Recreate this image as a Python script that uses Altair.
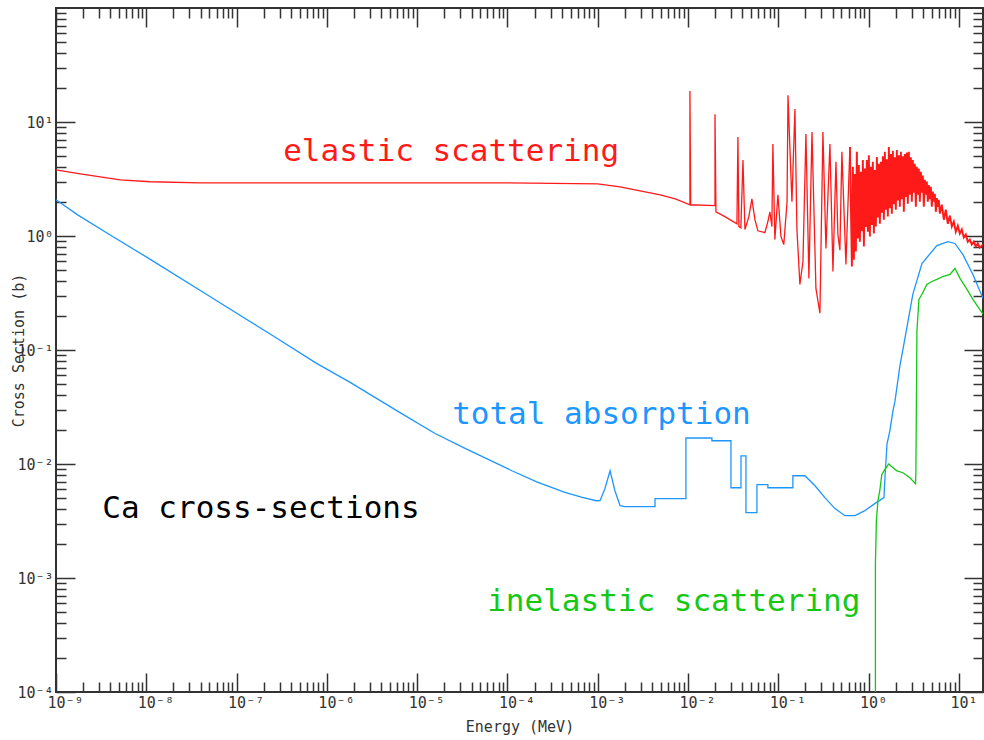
import altair as alt
import pandas as pd

# ---------------- data ----------------
# Energy in MeV, cross section in barns
elastic_low_E = [1.0e-9, 1.86e-9, 3.09e-9, 5.15e-9, 1.11e-8, 3.96e-8, 1.0e-6, 1.0e-4, 1.0e-3,
                 1.77e-3, 2.94e-3, 4.93e-3, 7.23e-3, 1.05e-2, 1.05e-2, 1.07e-2, 1.99e-2, 1.99e-2,
                 2.04e-2, 2.56e-2, 3.48e-2, 3.57e-2, 3.66e-2, 3.85e-2, 4.06e-2, 4.27e-2, 4.72e-2,
                 5.10e-2, 5.51e-2, 5.94e-2, 7.10e-2, 7.67e-2, 8.07e-2, 8.49e-2, 8.71e-2, 9.16e-2,
                 9.90e-2, 0.107, 0.115, 0.125, 0.128, 0.1345, 0.1416, 0.1528, 0.1607, 0.1734,
                 0.1875, 0.2023, 0.2183, 0.236, 0.261, 0.289, 0.312, 0.337, 0.373, 0.403, 0.435,
                 0.457, 0.481, 0.506, 0.561, 0.621]
elastic_low_S = [3.80, 3.51, 3.30, 3.11, 2.99, 2.93, 2.93, 2.93, 2.87,
                 2.70, 2.49, 2.30, 2.12, 1.88, 18.7, 1.88, 1.85, 11.7,
                 1.63, 1.48, 1.28, 7.4, 1.21, 1.18, 4.65, 1.14, 1.48,
                 2.12, 1.39, 1.11, 1.07, 1.34, 1.63, 1.21, 6.42, 0.93,
                 2.30, 0.99, 0.84, 2.00, 17.2, 5.81, 2.0, 13.0, 1.16, 0.376,
                 0.597, 7.85, 0.425, 8.18, 0.347, 0.210, 8.18, 0.776, 6.42, 0.489, 4.47,
                 1.03, 0.75, 5.47, 0.562, 6.04]
# dense resonance band (0.62 - 18 MeV)
elastic_band_E = [0.621,
                  0.653, 0.670, 0.687, 0.705, 0.723, 0.741, 0.761, 0.780, 0.801, 0.821,
                  0.843, 0.864, 0.887, 0.910, 0.933, 0.957, 0.982, 1.007, 1.033, 1.060,
                  1.087, 1.115, 1.144, 1.174, 1.204, 1.235, 1.267, 1.300, 1.333, 1.368,
                  1.403, 1.439, 1.476, 1.514, 1.553, 1.594, 1.635, 1.677, 1.720, 1.765,
                  1.810, 1.857, 1.905, 1.954, 2.004, 2.056, 2.109, 2.164, 2.219, 2.277,
                  2.335, 2.396, 2.457, 2.521, 2.586, 2.653, 2.721, 2.791, 2.863, 2.937,
                  3.013, 3.091, 3.171, 3.253, 3.336, 3.423, 3.511, 3.602, 3.695, 3.790,
                  3.888, 3.988, 4.091, 4.197, 4.305, 4.417, 4.530, 4.647, 4.767, 4.890,
                  5.017, 5.146, 5.279, 5.416, 5.555, 5.699, 5.845, 5.996, 6.151,
                  6.473, 6.811, 7.168, 7.542, 7.937, 8.352, 8.789, 9.248, 9.732, 10.24,
                  10.78, 11.34, 11.93, 12.56, 13.21, 13.90, 14.63, 15.40, 16.20, 17.05, 18.4]
elastic_band_S = [6.04,
                  0.54, 4.04, 0.62, 3.50, 0.73, 5.47, 0.95, 4.20, 0.89, 3.66,
                  1.10, 4.65, 0.81, 3.90, 1.20, 4.65, 1.09, 5.10, 0.99, 4.04,
                  1.25, 4.47, 1.05, 3.80, 1.21, 4.94, 1.45, 4.30, 1.28, 4.47,
                  1.60, 5.00, 1.39, 5.47, 1.70, 4.70, 1.48, 6.04, 1.75, 5.25,
                  1.57, 5.60, 1.90, 4.90, 1.70, 5.69, 2.05, 5.10, 1.81, 5.47,
                  2.10, 5.00, 1.63, 5.25, 2.20, 5.40, 1.92, 5.47, 2.30, 4.90,
                  2.00, 4.65, 2.40, 4.30, 1.81, 4.04, 2.30, 3.90, 2.00, 3.66,
                  2.40, 3.40, 1.81, 3.11, 2.30, 3.00, 2.00, 2.80, 2.10, 2.70,
                  1.81, 2.45, 2.00, 2.35, 1.63, 2.15, 1.80, 2.08, 1.57,
                  1.88, 1.39, 1.70, 1.28, 1.51, 1.21, 1.34, 1.09, 1.23, 1.05,
                  1.14, 0.97, 1.03, 0.89, 0.93, 0.84, 0.89, 0.81, 0.86, 0.79, 0.84]

absorption_E = [1.0e-9, 1.72e-9, 3.86e-9, 1.13e-8, 4.72e-8, 2.58e-7, 7.53e-7, 1.85e-6, 6.46e-6,
                1.58e-5, 3.53e-5, 1.12e-4, 2.11e-4, 4.33e-4, 6.74e-4, 9.64e-4,
                1.06e-3, 1.20e-3, 1.37e-3, 1.55e-3, 1.77e-3, 2.00e-3,
                4.31e-3, 4.31e-3, 9.48e-3, 9.48e-3, 1.84e-2, 1.84e-2, 2.99e-2, 2.99e-2, 3.86e-2,
                3.86e-2, 4.38e-2, 4.38e-2, 5.80e-2, 5.80e-2, 7.67e-2, 7.67e-2, 0.145, 0.145,
                0.197, 0.255, 0.328, 0.424, 0.547, 0.706, 0.910, 1.17, 1.48, 1.52, 1.60, 1.72,
                1.86, 1.96, 2.22, 2.53, 3.09, 3.90, 5.70, 7.56, 9.04, 11.1, 14.3, 18.5]
absorption_S = [2.08, 1.54, 1.035, 0.618, 0.305, 0.132, 0.0771, 0.0515, 0.0282,
                0.0185, 0.0135, 8.73e-3, 6.98e-3, 5.64e-3, 5.09e-3, 4.76e-3,
                4.77e-3, 6.07e-3, 8.71e-3, 5.83e-3, 4.31e-3, 4.22e-3,
                4.22e-3, 4.97e-3, 4.97e-3, 1.69e-2, 1.69e-2, 1.60e-2, 1.60e-2, 6.19e-3, 6.19e-3,
                1.18e-2, 1.18e-2, 3.74e-3, 3.74e-3, 6.58e-3, 6.58e-3, 6.19e-3, 6.19e-3, 7.89e-3,
                7.89e-3, 6.44e-3, 5.07e-3, 4.06e-3, 3.52e-3, 3.52e-3, 3.90e-3, 4.49e-3, 5.07e-3,
                7.73e-3, 1.50e-2, 1.95e-2, 2.92e-2, 3.56e-2, 7.21e-2, 0.127, 0.308, 0.574,
                0.824, 0.893, 0.86, 0.687, 0.460, 0.284]

inelastic_E = [1.19, 1.19, 1.22, 1.27, 1.33, 1.40, 1.48, 1.67, 1.81, 2.06, 2.40, 2.87, 3.31,
               3.34, 3.43, 3.61, 3.90, 4.42, 5.02, 5.70, 6.65, 7.95, 9.04, 10.3, 12.3, 14.3, 18.5]
inelastic_S = [1e-6, 1.34e-3, 3.18e-3, 4.77e-3, 5.83e-3, 8.06e-3, 8.71e-3, 1.00e-2, 9.44e-3,
               8.71e-3, 8.38e-3, 7.57e-3, 6.72e-3, 8.38e-3, 0.146, 0.278, 0.308, 0.376, 0.399,
               0.416, 0.441, 0.460, 0.519, 0.425, 0.340, 0.278, 0.206]

text_labels = ["elastic scattering", "total absorption", "Ca cross-sections", "inelastic scattering"]
text_E = [3.28e-7, 2.44e-5, 3.26e-9, 5.96e-5]
text_S = [4.56, 2.24e-2, 3.39e-3, 5.10e-4]

x_decades = [1e-9, 1e-8, 1e-7, 1e-6, 1e-5, 1e-4, 1e-3, 1e-2, 1e-1, 1e0, 1e1]
x_decade_labels = ["10⁻⁹", "10⁻⁸", "10⁻⁷", "10⁻⁶", "10⁻⁵", "10⁻⁴", "10⁻³", "10⁻²", "10⁻¹", "10⁰", "10¹"]
y_decades = [1e-4, 1e-3, 1e-2, 1e-1, 1e0, 1e1]
y_decade_labels = ["10⁻⁴", "10⁻³", "10⁻²", "10⁻¹", "10⁰", "10¹"]
minor_mult = [2, 3, 4, 5, 6, 7, 8, 9]

X_DOMAIN = [1e-9, 18.5]
Y_DOMAIN = [1e-4, 100.0]

# ---------------- helpers ----------------
FONT = "DejaVu Sans Mono"
AXC = "#333333"
RED, BLUE, GREEN, BLACK = "#ff1a1a", "#1e96ff", "#14c814", "#000000"

x_minor = [m * d for d in x_decades + [1e2] for m in minor_mult if m * d <= X_DOMAIN[1]]
y_minor = [m * d for d in y_decades + [1e2] for m in minor_mult if m * d <= Y_DOMAIN[1]]


def frame(E, S):
    return pd.DataFrame({"E": E, "S": S, "i": list(range(len(E)))})


def xs():
    return alt.Scale(type="log", domain=X_DOMAIN, nice=False)


def ys():
    return alt.Scale(type="log", domain=Y_DOMAIN, nice=False)


def label_expr(labels, shift):
    arr = ",".join("'" + s + "'" for s in labels)
    return "[" + arr + "][round(log(datum.value)/LN10)+" + str(shift) + "]"


common = dict(domain=False, grid=False, tickColor=AXC, tickWidth=1.5)

x_main = alt.Axis(orient="bottom", values=x_decades, offset=-19, tickSize=19,
                  labelExpr=label_expr(x_decade_labels, 9), labelFont=FONT, labelFontSize=15,
                  labelColor=AXC, labelPadding=3, labelAlign="left", labelOffset=-9,
                  labelFlush=False, labelOverlap=False, labelBound=False,
                  title="Energy (MeV)", titleFont=FONT, titleFontSize=15, titleFontWeight="normal",
                  titleColor=AXC, titleY=53, titleBaseline="middle", **common)
y_main = alt.Axis(orient="left", values=y_decades, offset=-19, tickSize=19,
                  labelExpr=label_expr(y_decade_labels, 4), labelFont=FONT, labelFontSize=15,
                  labelColor=AXC, labelPadding=3, labelBaseline="middle",
                  labelFlush=False, labelOverlap=False, labelBound=False,
                  title="Cross Section (b)", titleFont=FONT, titleFontSize=15, titleFontWeight="normal",
                  titleColor=AXC, titleX=-57, titleY=342, titleAngle=270,
                  titleBaseline="middle", titleAlign="center", **common)


def plain_axis(orient, values, size):
    return alt.Axis(orient=orient, values=values, offset=-size, tickSize=size,
                    labels=False, title=None, **common)


def line(E, S, color, width=1.3):
    return alt.Chart(frame(E, S)).mark_line(color=color, strokeWidth=width, clip=True).encode(
        x=alt.X("E:Q", scale=xs(), axis=x_main),
        y=alt.Y("S:Q", scale=ys(), axis=y_main),
        order=alt.Order("i:Q"),
    )


red = line(elastic_low_E, elastic_low_S, RED)
red_band = line(elastic_band_E, elastic_band_S, RED, 1.9)
blue = line(absorption_E, absorption_S, BLUE)
green = line(inelastic_E, inelastic_S, GREEN)

texts = alt.Chart(pd.DataFrame({"E": text_E, "S": text_S, "label": text_labels})).mark_text(
    align="left", baseline="alphabetic", font=FONT, fontSize=31
).encode(
    x=alt.X("E:Q", scale=xs(), axis=x_main),
    y=alt.Y("S:Q", scale=ys(), axis=y_main),
    text="label:N",
    color=alt.Color("label:N", scale=alt.Scale(domain=text_labels, range=[RED, BLUE, BLACK, GREEN]),
                    legend=None),
)

inner = alt.layer(red, red_band, blue, green, texts)


def axis_layer(xaxis, yaxis):
    return alt.Chart(frame(inelastic_E, inelastic_S)).mark_point(opacity=0).encode(
        x=alt.X("E:Q", scale=xs(), axis=xaxis),
        y=alt.Y("S:Q", scale=ys(), axis=yaxis),
    )


minor_bl = axis_layer(plain_axis("bottom", x_minor, 10), plain_axis("left", y_minor, 10))
major_tr = axis_layer(plain_axis("top", x_decades, 19), plain_axis("right", y_decades, 19))
minor_tr = axis_layer(plain_axis("top", x_minor, 10), plain_axis("right", y_minor, 10))

chart = alt.layer(inner, minor_bl, major_tr, minor_tr).resolve_scale(
    x="independent", y="independent"
).properties(
    width=927, height=684,
    autosize=alt.AutoSizeParams(type="none"),
    padding={"left": 56, "top": 8, "right": 1, "bottom": 48},
    background="white",
).configure_view(stroke=AXC, strokeWidth=2).configure_axis(grid=False)

chart.save("out.html", embed_options={"renderer": "svg", "actions": False})
